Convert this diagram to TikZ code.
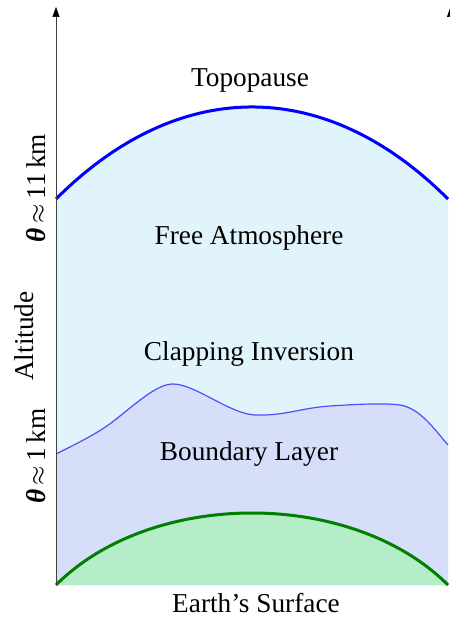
\documentclass[tikz,border=0pt]{standalone}
\usepackage{fontspec}
\setmainfont{Liberation Serif}
\usetikzlibrary{arrows.meta}
\definecolor{skyfill}{HTML}{E1F4FB}
\definecolor{lavfill}{HTML}{D6DEFA}
\definecolor{groundfill}{HTML}{B6EDC9}
\definecolor{groundline}{HTML}{008000}
\definecolor{bllline}{HTML}{4F4FF5}
\tikzset{
  lbl/.style={font=\fontsize{27.3}{31}\selectfont, anchor=base, inner sep=0pt},
  sidelbl/.style={lbl, rotate=90},
  axisline/.style={draw=black!75, line width=0.7pt, -{Triangle[length=10pt,width=7pt,black]}},
}
\newcommand{\thetab}{{\bfseries\itshape θ}}
\newcommand{\approxsym}{\,$\approx$\,}
\begin{document}
\begin{tikzpicture}[x=1pt,y=-1pt]
\useasboundingbox (0,0) rectangle (449,617);
% fills
\fill[skyfill] (56,199) .. controls (178.7,76.3) and (325.3,76.3) .. (448,199) -- (448,585) -- (56,585) -- cycle;
\fill[lavfill] (56,454) .. controls (80,442) and (100,432) .. (115,420)
  .. controls (140,400) and (158,384) .. (173,384)
  .. controls (195,384) and (230,414) .. (255,415)
  .. controls (285,416) and (300,408) .. (330,406)
  .. controls (360,404) and (385,403) .. (400,405)
  .. controls (420,408) and (435,430) .. (448,445)
  -- (448,585) -- (56,585) -- cycle;
\fill[groundfill] (56,585) .. controls (152,489) and (352,489) .. (448,585) -- cycle;
% boundary lines
\draw[blue, line width=3pt] (56,199) .. controls (178.7,76.3) and (325.3,76.3) .. (448,199);
\draw[bllline, line width=1.2pt] (56,454) .. controls (80,442) and (100,432) .. (115,420)
  .. controls (140,400) and (158,384) .. (173,384)
  .. controls (195,384) and (230,414) .. (255,415)
  .. controls (285,416) and (300,408) .. (330,406)
  .. controls (360,404) and (385,403) .. (400,405)
  .. controls (420,408) and (435,430) .. (448,445);
\draw[groundline, line width=3pt] (56,585) .. controls (152,489) and (352,489) .. (448,585);
% axes
\coordinate (lb) at (56,585);
\coordinate (lt) at (56,7);
\coordinate (rb) at (450.5,585);
\coordinate (rt) at (450.5,7);
\draw[axisline] (lb) -- (lt);
\draw[axisline] (rb) -- (rt);
% labels
\node[lbl] (topo) at (250,87) {Topopause};
\node[lbl] (free) at (249,244) {Free Atmosphere};
\node[lbl] (clap) at (249,360) {Clapping Inversion};
\node[lbl] (bl) at (249,460) {Boundary Layer};
\node[lbl] (earth) at (256,612) {Earth’s Surface};
\node[sidelbl] (h11) at (45,188) {\thetab\approxsym11\,km};
\node[sidelbl] (alt) at (33,336) {Altitude};
\node[sidelbl] (h1) at (45,456) {\thetab\approxsym1\,km};
\end{tikzpicture}
\end{document}
